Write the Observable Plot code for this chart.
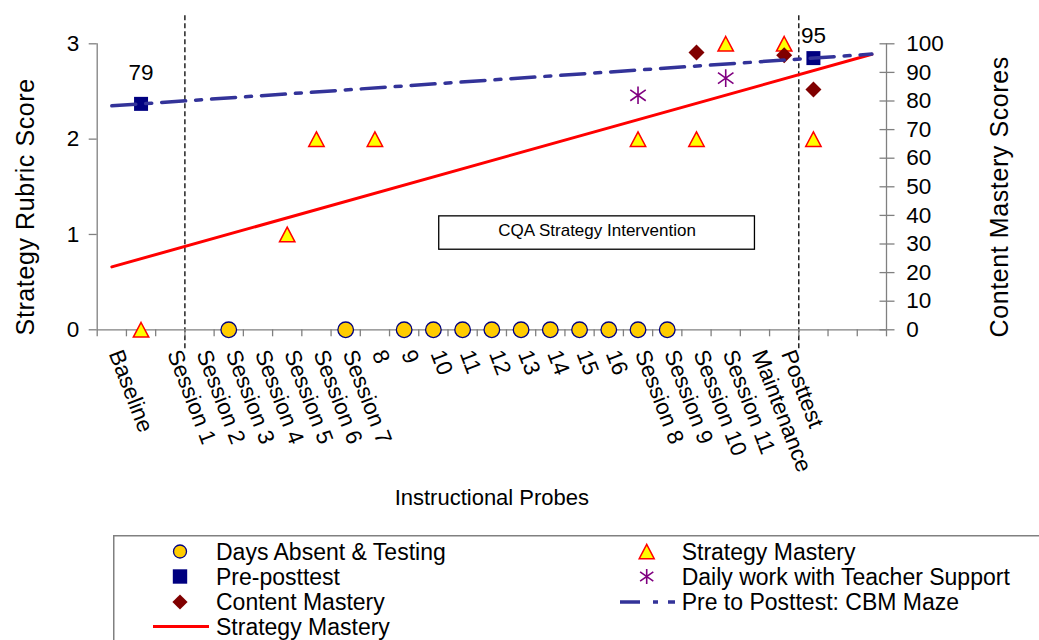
<!DOCTYPE html>
<html><head><meta charset="utf-8">
<script src="https://cdn.jsdelivr.net/npm/d3@7"></script>
<script src="https://cdn.jsdelivr.net/npm/@observablehq/plot@0.6"></script>
<style>
html,body{margin:0;padding:0;background:#fff;overflow:hidden;}
#wrap{position:relative;width:1039px;height:640px;overflow:hidden;font-family:"Liberation Sans",Arial,sans-serif;}
#chart svg{display:block;}
#legend{position:absolute;left:113px;top:535px;}
</style></head><body>
<div id="wrap"><div id="chart"></div><svg id="legend" width="926" height="105"></svg></div>
<script>
// ---- data (category slots on the x axis) ----
const probes = ["Baseline", "", "Session 1", "Session 2", "Session 3", "Session 4", "Session 5", "Session 6", "Session 7",
  "8", "9", "10", "11", "12", "13", "14", "15", "16", "Session 8", "Session 9", "Session 10", "Session 11",
  "Maintenance", "Posttest", "", "", ""];
const absentSlots = [4, 8, 10, 11, 12, 13, 14, 15, 16, 17, 18, 19];
const absentScores = [0, 0, 0, 0, 0, 0, 0, 0, 0, 0, 0, 0];
const strategySlots = [1, 6, 7, 9, 18, 20, 21, 23, 24];
const strategyScores = [0, 1, 2, 2, 2, 2, 3, 3, 2];
const prePostSlots = [1, 24];
const prePostScores = [79, 95];
const contentSlots = [20, 23, 24];
const contentScores = [97, 96, 84];
const teacherSlots = [18, 21];
const teacherScores = [82, 88];
const strategyTrendSlots = [0, 26];
const strategyTrendScores = [0.66, 2.89];
const mazeTrendSlots = [0, 26];
const mazeTrendScores = [78.3, 96.4];
const phaseBreaks = [3, 24];
const leftTicks = [0, 1, 2, 3];
const rightTicks = [0, 10, 20, 30, 40, 50, 60, 70, 80, 90, 100];
const annotation = [{text: "CQA Strategy Intervention", x1: 11.7, x2: 22.5, y1: 0.84, y2: 1.19}];
const leftTitle = "Strategy Rubric Score";
const rightTitle = "Content Mastery Scores";
const xTitle = "Instructional Probes";

// ---- helpers ----
const R = 3 / 100; // right-axis units -> left-axis units
const mid = s => s + 0.5;
const rows = (slots, vals) => slots.map((s, i) => ({slot: s, v: vals[i]}));
const rad = size => Math.sqrt(size / Math.PI);
const symSquare = {draw(c, s) { const r = rad(s); c.rect(-r, -r, 2 * r, 2 * r); }};
const symDiamond = {draw(c, s) { const r = rad(s); c.moveTo(0, -r); c.lineTo(r, 0); c.lineTo(0, r); c.lineTo(-r, 0); c.closePath(); }};
const symTriangle = {draw(c, s) { const r = rad(s); c.moveTo(0, -0.95 * r); c.lineTo(r, 0.95 * r); c.lineTo(-r, 0.95 * r); c.closePath(); }};
const symStar = {draw(c, s) { const r = rad(s);
  c.moveTo(0, -r); c.lineTo(0, r);
  c.moveTo(-0.88 * r, -0.62 * r); c.lineTo(0.88 * r, 0.62 * r);
  c.moveTo(-0.88 * r, 0.62 * r); c.lineTo(0.88 * r, -0.62 * r); }};

const absent = rows(absentSlots, absentScores);
const strategy = rows(strategySlots, strategyScores);
const prePost = rows(prePostSlots, prePostScores);
const content = rows(contentSlots, contentScores);
const teacher = rows(teacherSlots, teacherScores);
const strategyTrend = rows(strategyTrendSlots, strategyTrendScores);
const mazeTrend = rows(mazeTrendSlots, mazeTrendScores);

const FONT = "'Liberation Sans', Arial, sans-serif";
const H = 525;
const chart = Plot.plot({
  width: 1039, height: H,
  marginLeft: 96.7, marginRight: 153, marginTop: 43.3, marginBottom: H - 329.3,
  x: {type: "linear", domain: [0, probes.length]},
  y: {type: "linear", domain: [0, 3]},
  style: {fontFamily: FONT, fontSize: "22.5px", background: "white", color: "black", overflow: "visible"},
  marks: [
    Plot.ruleX(phaseBreaks, {x: d => d, y1: -0.2, y2: 3.31, stroke: "black", strokeWidth: 1.3, strokeDasharray: "5,3"}),
    Plot.rect(annotation, {x1: "x1", x2: "x2", y1: "y1", y2: "y2", fill: "white", stroke: "black", strokeWidth: 1.3}),
    Plot.text(annotation, {x: d => (d.x1 + d.x2) / 2, y: d => (d.y1 + d.y2) / 2, text: "text", fontSize: 17, dy: -2}),
    // axis lines
    Plot.ruleX([0, probes.length], {x: d => d, y1: 0, y2: 3, stroke: "#808080", strokeWidth: 1.3}),
    Plot.ruleY([0], {y: d => d, x1: 0, x2: probes.length, stroke: "#808080", strokeWidth: 1.3}),
    // axes
    Plot.axisY(leftTicks, {anchor: "left", tickSize: 8, tickPadding: 10, fontSize: 22.5, stroke: "#808080", strokeWidth: 1.3, tickFormat: d3.format("d"), label: null}),
    Plot.axisY(rightTicks.map(t => t * R), {anchor: "right", tickSize: 15, dx: -7.5, tickPadding: 12.2, fontSize: 22.5, stroke: "#808080", strokeWidth: 1.3, tickFormat: d => String(Math.round(d / R)), label: null}),
    Plot.axisX(d3.range(probes.length + 1), {anchor: "bottom", tickSize: 7, stroke: "#808080", strokeWidth: 1.3, tickFormat: () => "", label: null}),
    Plot.text(d3.range(probes.length), {x: i => mid(i), frameAnchor: "bottom", text: i => probes[i], rotate: 69, textAnchor: "start", lineAnchor: "middle", dx: 3.5, dy: 21, fontSize: 22.5}),
    // titles
    Plot.text([xTitle], {frameAnchor: "bottom", textAnchor: "middle", lineAnchor: "middle", dy: 167.7, fontSize: 22}),
    Plot.text([leftTitle], {frameAnchor: "left", textAnchor: "middle", rotate: -90, lineAnchor: "middle", dx: -71.7, dy: 20, fontSize: 25}),
    Plot.text([rightTitle], {frameAnchor: "right", textAnchor: "middle", rotate: -90, lineAnchor: "middle", dx: 113.5, dy: 10, fontSize: 25}),
    // markers
    Plot.dot(strategy, {x: d => mid(d.slot), y: "v", symbol: symTriangle, r: 7.7, fill: "#FFFF00", stroke: "#FF0000", strokeWidth: 1.5}),
    Plot.dot(prePost, {x: d => mid(d.slot), y: d => d.v * R, symbol: symSquare, r: 7, fill: "#000080", stroke: "none"}),
    Plot.dot(teacher, {x: d => mid(d.slot), y: d => d.v * R, symbol: symStar, r: 8.8, fill: "none", stroke: "#800080", strokeWidth: 1.6}),
    Plot.dot(content, {x: d => mid(d.slot), y: d => d.v * R, symbol: symDiamond, r: 8, fill: "#800000", stroke: "none"}),
    Plot.dot(absent, {x: d => mid(d.slot), y: "v", r: 7.8, fill: "#FFCC00", stroke: "#000080", strokeWidth: 1.3}),
    // trend lines
    Plot.line(strategyTrend, {x: d => mid(d.slot), y: "v", stroke: "#FF0000", strokeWidth: 3}),
    Plot.line(mazeTrend, {x: d => mid(d.slot), y: d => d.v * R, stroke: "#333399", strokeWidth: 3.5, strokeDasharray: "24,10,6,10"}),
    // data labels
    Plot.text(prePost.slice(0, 1), {x: d => mid(d.slot), y: d => d.v * R, text: d => String(d.v), dy: -31, fontSize: 22.5}),
    Plot.text(prePost.slice(1), {x: d => mid(d.slot), y: d => d.v * R, text: d => String(d.v), dy: -22, fontSize: 22.5})
  ]
});
document.getElementById("chart").appendChild(chart);
d3.select(chart).selectAll("text")
  .filter(function () { return this.textContent === leftTitle || this.textContent === rightTitle; })
  .style("letter-spacing", "0.6px");

// ---- legend ----
const legendLabels = ["Days Absent & Testing", "Pre-posttest", "Content Mastery", "Strategy Mastery",
  "Strategy Mastery", "Daily work with Teacher Support", "Pre to Posttest: CBM Maze"];
const legendKinds = ["circle", "square", "diamond", "redline", "triangle", "star", "blueline"];
const leg = d3.select("#legend");
leg.append("rect").attr("x", 0.75).attr("y", 0.75).attr("width", 2000).attr("height", 400)
  .attr("fill", "white").attr("stroke", "#808080").attr("stroke-width", 1.5);
const rowY = [16.5, 41.5, 67, 91.5];
const sym = (o, r) => d3.symbol().type(o).size(Math.PI * r * r)();
legendLabels.forEach((label, i) => {
  const col = i < 4 ? 0 : 1;
  const row = col === 0 ? i : i - 4;
  const y = rowY[row];
  const sx = col === 0 ? 67 : 533.7;
  const tx = col === 0 ? 103 : 568.7;
  const kind = legendKinds[i];
  const g = leg.append("g");
  if (kind === "circle") g.append("circle").attr("cx", sx).attr("cy", y).attr("r", 6.5).attr("fill", "#FFCC00").attr("stroke", "#000080").attr("stroke-width", 1.3);
  if (kind === "square") g.append("path").attr("transform", `translate(${sx},${y})`).attr("d", sym(symSquare, 7.2)).attr("fill", "#000080");
  if (kind === "diamond") g.append("path").attr("transform", `translate(${sx},${y})`).attr("d", sym(symDiamond, 7.6)).attr("fill", "#800000");
  if (kind === "triangle") g.append("path").attr("transform", `translate(${sx},${y})`).attr("d", sym(symTriangle, 7.5)).attr("fill", "#FFFF00").attr("stroke", "#FF0000").attr("stroke-width", 1.5);
  if (kind === "star") g.append("path").attr("transform", `translate(${sx},${y})`).attr("d", sym(symStar, 7.5)).attr("fill", "none").attr("stroke", "#800080").attr("stroke-width", 1.6);
  if (kind === "redline") g.append("line").attr("x1", 40).attr("x2", 96).attr("y1", y).attr("y2", y).attr("stroke", "#FF0000").attr("stroke-width", 3);
  if (kind === "blueline") g.append("line").attr("x1", 507).attr("x2", 562).attr("y1", y).attr("y2", y).attr("stroke", "#333399").attr("stroke-width", 3.5).attr("stroke-dasharray", "20,13,5,10");
  g.append("text").attr("x", tx).attr("y", y).attr("dy", "0.35em").attr("font-size", 23)
    .attr("font-family", FONT).attr("fill", "black").text(label);
});
</script>
</body></html>
